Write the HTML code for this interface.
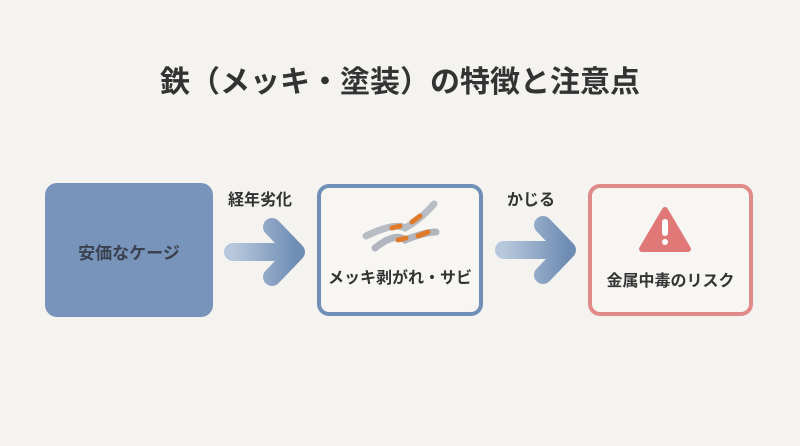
<!DOCTYPE html>
<html><head><meta charset="utf-8"><style>
body{margin:0;width:800px;height:446px;background:#f5f3ef;position:relative;overflow:hidden;font-family:"Liberation Sans","Noto Sans CJK JP",sans-serif;color:#333;}
.t{position:absolute;font-weight:bold;white-space:nowrap;}
.box{position:absolute;box-sizing:border-box;border-radius:12px;}
</style></head><body>
<div class="t" style="left:0;width:800px;text-align:center;top:57px;font-size:30px;color:#333">鉄（メッキ・塗装）の特徴と注意点</div>
<div class="box" style="left:45px;top:183px;width:168px;height:134px;background:#7894bb;"></div>
<div class="t" style="left:45px;width:168px;text-align:center;top:239px;font-size:17px;color:#3a4250">安価なケージ</div>
<div class="box" style="left:317px;top:184px;width:166px;height:132px;border:4px solid #7090b8;background:#f7f6f3"></div>
<div class="t" style="left:317px;width:166px;text-align:center;top:264px;font-size:16px;color:#333">メッキ剥がれ・サビ</div>
<div class="box" style="left:588px;top:184px;width:165px;height:132px;border:4px solid #e08a8a;background:#f7f6f3"></div>
<div class="t" style="left:588px;width:165px;text-align:center;top:267px;font-size:16px;color:#333">金属中毒のリスク</div>
<div class="t" style="left:228px;top:186px;font-size:16px">経年劣化</div>
<div class="t" style="left:507px;top:186px;font-size:16px">かじる</div>
<svg width="800" height="446" style="position:absolute;left:0;top:0">
<defs><linearGradient id="g" x1="0" x2="1"><stop offset="0" stop-color="#b8c8dc"/><stop offset="1" stop-color="#6f8db4"/></linearGradient></defs>
<g stroke="url(#g)" stroke-linecap="round" stroke-linejoin="round" fill="none" stroke-width="18">
<path d="M233 252 H292 M272 227 L296 252 L272 277"/>
<path d="M504 250 H563 M543 225 L567 250 L543 275"/>
</g>
<g stroke-linecap="round" fill="none">
<path d="M366 236 Q395 222 405 228 Q420 220 434 204" stroke="#b8bcc4" stroke-width="7"/>
<path d="M375 248 Q395 232 405 240 Q425 232 436 232" stroke="#b0b5be" stroke-width="7"/>
<path d="M392 228 L400 226 M412 222 L420 216 M398 240 L406 238 M418 236 L428 232" stroke="#e07a2a" stroke-width="5"/>
</g>
<path d="M665 210 L688 249 L642 249 Z" fill="#e07878" stroke="#e07878" stroke-width="6" stroke-linejoin="round"/>
<rect x="662" y="219" width="6" height="17" rx="3" fill="#fff"/>
<circle cx="665" cy="242" r="3" fill="#fff"/>
</svg>
</body></html>
